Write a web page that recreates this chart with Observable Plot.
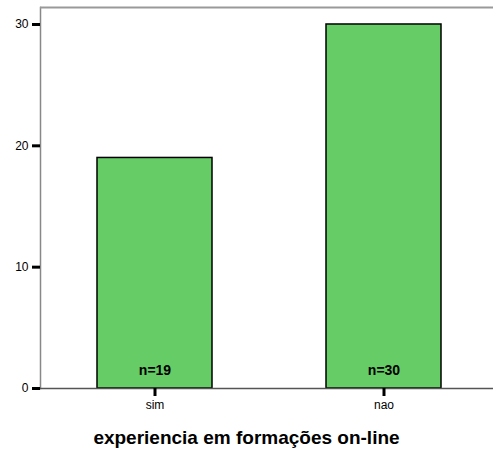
<!DOCTYPE html>
<html>
<head>
<meta charset="utf-8">
<script src="https://cdn.jsdelivr.net/npm/d3@7"></script>
<script src="https://cdn.jsdelivr.net/npm/@observablehq/plot@0.6"></script>
<style>
  body { margin: 0; background: #fff; font-family: "Liberation Sans", Arial, sans-serif; overflow: hidden; }
  #chart svg { display: block; }
  #title { width: 493px; text-align: center; font-weight: bold; font-size: 19px; line-height: 22px; margin-top: 9px; color: #000; }
</style>
</head>
<body>
<div id="chart"></div>
<div id="title">experiencia em formações on-line</div>
<script>
const categories = ["sim", "nao"];
const counts = [19, 30];
const yTicks = [0, 10, 20, 30];
const yMax = 31.4;

const data = categories.map((c, i) => ({cat: c, n: counts[i]}));

const chart = Plot.plot({
  width: 493,
  height: 418,
  marginLeft: 40,
  marginTop: 7,
  marginBottom: 30,
  marginRight: 0,
  style: {fontFamily: "Liberation Sans, Arial, sans-serif", background: "#fff", color: "#000"},
  x: {domain: categories, range: [40, 498], paddingInner: 0.5, paddingOuter: 0.25},
  y: {domain: [0, yMax]},
  marks: [
    Plot.frame({anchor: "left", stroke: "#888", strokeWidth: 1.5}),
    Plot.ruleY([yMax], {stroke: "#999", strokeWidth: 2}),
    Plot.barY(data, {x: "cat", y: "n", fill: "#66cc66", stroke: "#000", strokeWidth: 1.5}),
    Plot.ruleY([0], {stroke: "#555", strokeWidth: 1.5}),
    Plot.text(data, {x: "cat", y: 0, text: d => "n=" + d.n, dy: -18, fontWeight: "bold", fontSize: 14, fill: "#000"}),
    Plot.axisY({ticks: yTicks, tickSize: 8, tickPadding: 4, fontSize: 12, strokeWidth: 3, label: null}),
    Plot.axisX({tickSize: 8, tickPadding: 4, fontSize: 12, strokeWidth: 3, label: null})
  ]
});
document.getElementById("chart").appendChild(chart);
</script>
</body>
</html>
